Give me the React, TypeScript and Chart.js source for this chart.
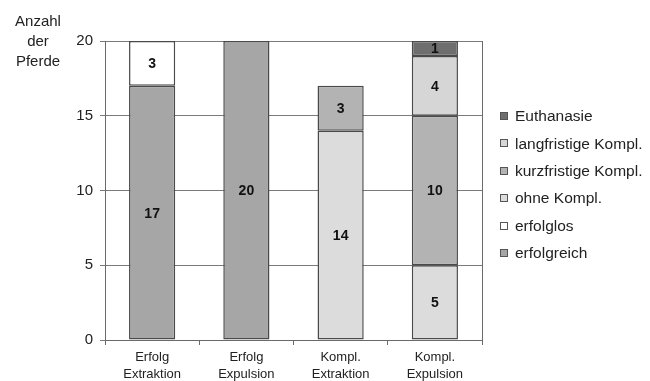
import React, { useEffect, useRef } from "react";
import { Chart, registerables } from "chart.js";

Chart.register(...registerables);

const categories: string[][] = [
  ["Erfolg", "Extraktion"],
  ["Erfolg", "Expulsion"],
  ["Kompl.", "Extraktion"],
  ["Kompl.", "Expulsion"],
];
const erfolgreich = [17, 20, null, null];
const erfolglos = [3, null, null, null];
const ohneKompl = [null, null, 14, 5];
const kurzKompl = [null, null, 3, 10];
const langKompl = [null, null, null, 4];
const euthanasie = [null, null, null, 1];
const yTicks = [0, 5, 10, 15, 20];
const yTitle = ["Anzahl", "der", "Pferde"];

const FONT = "'Liberation Sans', Arial, sans-serif";

const labelPlugin = {
  id: "segLabels",
  afterDatasetsDraw(chart: any) {
    const ctx = chart.ctx;
    ctx.save();
    ctx.font = `bold 14px ${FONT}`;
    ctx.fillStyle = "#111";
    ctx.textAlign = "center";
    ctx.textBaseline = "middle";
    chart.data.datasets.forEach((ds: any, di: number) => {
      const meta = chart.getDatasetMeta(di);
      meta.data.forEach((el: any, i: number) => {
        const v = ds.data[i];
        if (v == null) return;
        const p = el.getProps(["x", "y", "base"], true);
        ctx.fillText(String(v), p.x, (p.y + p.base) / 2 + 1);
      });
    });
    ctx.restore();
  },
};

const framePlugin = {
  id: "frame",
  afterDraw(chart: any) {
    const { ctx, chartArea: a } = chart;
    ctx.save();
    ctx.strokeStyle = "#6a6a6a";
    ctx.lineWidth = 1;
    ctx.beginPath();
    ctx.moveTo(Math.round(a.right) + 0.5, a.top);
    ctx.lineTo(Math.round(a.right) + 0.5, a.bottom);
    ctx.stroke();
    // y title
    ctx.font = `15px ${FONT}`;
    ctx.fillStyle = "#222";
    ctx.textAlign = "center";
    ctx.textBaseline = "middle";
    yTitle.forEach((t, i) => ctx.fillText(t, 38, 22 + i * 20));
    // legend
    const ds = chart.data.datasets.slice().reverse();
    ds.forEach((d: any, i: number) => {
      const y = 116 + i * 27.4;
      ctx.fillStyle = d.backgroundColor;
      ctx.fillRect(500, Math.round(y - 4), 8, 8);
      ctx.strokeStyle = "#555";
      ctx.strokeRect(500.5, Math.round(y - 4) + 0.5, 7, 7);
      ctx.fillStyle = "#222";
      ctx.textAlign = "left";
      ctx.font = `15.5px ${FONT}`;
      ctx.fillText(d.label, 515, y + 1);
    });
    ctx.restore();
  },
};

export default function App() {
  const ref = useRef<HTMLCanvasElement>(null);
  useEffect(() => {
    document.body.style.margin = "0";
    const border = "#4a4a4a";
    const mk = (label: string, data: any[], color: string) => ({
      label,
      data,
      backgroundColor: color,
      borderColor: border,
      borderWidth: 1.5,
      borderSkipped: false,
      stack: "s",
      categoryPercentage: 1,
      barPercentage: 0.49,
    });
    const chart = new Chart(ref.current!, {
      type: "bar",
      data: {
        labels: categories,
        datasets: [
          mk("erfolgreich", erfolgreich, "#a6a6a6"),
          mk("erfolglos", erfolglos, "#ffffff"),
          mk("ohne Kompl.", ohneKompl, "#dcdcdc"),
          mk("kurzfristige Kompl.", kurzKompl, "#b3b3b3"),
          mk("langfristige Kompl.", langKompl, "#d6d6d6"),
          mk("Euthanasie", euthanasie, "#6e6e6e"),
        ],
      },
      options: {
        animation: false,
        responsive: false,
        layout: { padding: { top: 41, right: 168, bottom: 0, left: 0 } },
        plugins: { legend: { display: false }, tooltip: { enabled: false } },
        scales: {
          x: {
            stacked: true,
            grid: {
              display: true,
              drawOnChartArea: false,
              drawTicks: true,
              tickLength: 5,
              color: "#6a6a6a",
              offset: true,
            },
            border: { color: "#6a6a6a" },
            ticks: {
              font: { family: FONT, size: 13, lineHeight: 1.3 },
              color: "#222",
              padding: 4,
              maxRotation: 0,
            },
            afterFit(axis: any) {
              axis.height = 41;
            },
          },
          y: {
            stacked: true,
            min: 0,
            max: 20,
            afterBuildTicks(axis: any) {
              axis.ticks = yTicks.map((v) => ({ value: v }));
            },
            grid: { color: "#7a7a7a", tickLength: 5 },
            border: { color: "#6a6a6a" },
            ticks: {
              font: { family: FONT, size: 15 },
              color: "#222",
              padding: 7,
            },
            afterFit(axis: any) {
              axis.width = 105;
            },
          },
        },
      },
      plugins: [labelPlugin, framePlugin],
    } as any);
    return () => chart.destroy();
  }, []);
  return (
    <div style={{ width: 650, height: 381 }}>
      <canvas ref={ref} width={650} height={381} style={{ display: "block" }} />
    </div>
  );
}
